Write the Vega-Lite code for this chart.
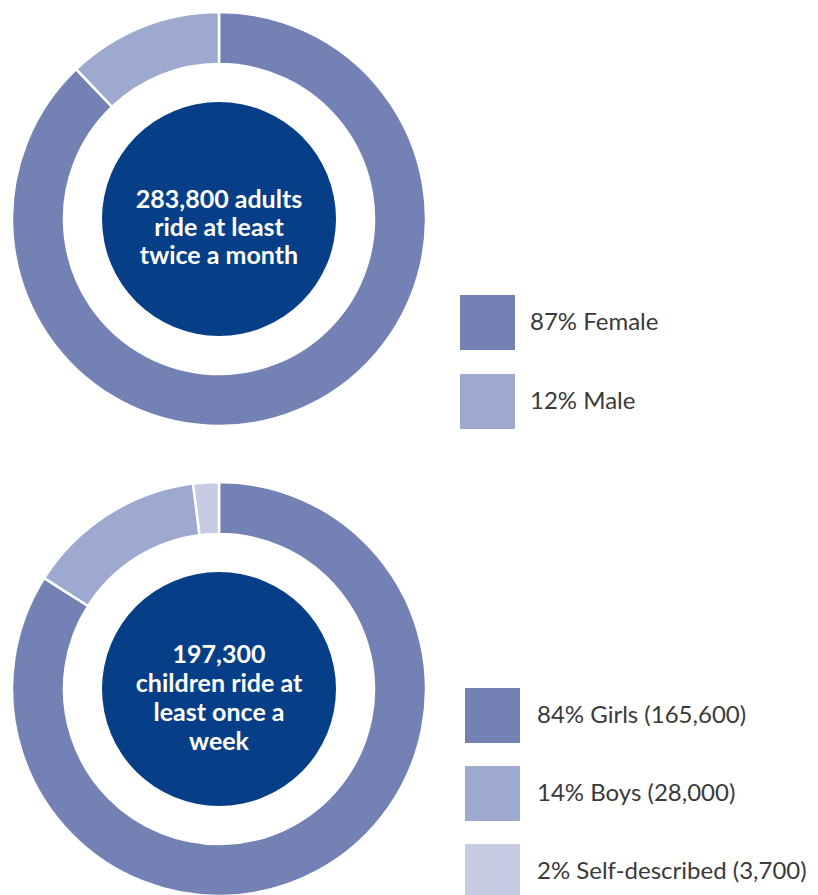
{
  "$schema": "https://vega.github.io/schema/vega-lite/v6.json",
  "padding": 0,
  "background": "white",
  "config": {
    "view": {"stroke": null},
    "concat": {"spacing": 32}
  },
  "datasets": {
    "adults": [
      {"group": "87% Female", "pct": 87},
      {"group": "12% Male", "pct": 12}
    ],
    "children": [
      {"group": "84% Girls (165,600)", "pct": 84},
      {"group": "14% Boys (28,000)", "pct": 14},
      {"group": "2% Self-described (3,700)", "pct": 2}
    ]
  },
  "vconcat": [
    {
      "width": 438,
      "height": 438,
      "layer": [
        {
          "data": {"name": "adults"},
          "mark": {"type": "arc", "innerRadius": 155, "outerRadius": 207, "stroke": "white", "strokeWidth": 2.5},
          "encoding": {
            "theta": {"field": "pct", "type": "quantitative", "stack": true},
            "order": {"field": "pct", "sort": "descending"},
            "color": {
              "field": "group",
              "type": "nominal",
              "scale": {"domain": ["87% Female", "12% Male"], "range": ["#7381b4", "#9ea9d0"]},
              "legend": {
                "orient": "none", "legendX": 460, "legendY": 295, "title": null,
                "symbolType": "square", "symbolSize": 3025, "symbolStrokeWidth": 0, "symbolOpacity": 1,
                "labelFontSize": 24, "labelFont": "Lato", "labelColor": "#3a3a3a",
                "labelOffset": 15, "rowPadding": 24, "labelLimit": 400, "padding": 0
              }
            }
          }
        },
        {
          "data": {"values": [{"label": ["283,800 adults", "ride at least", "twice a month"]}]},
          "mark": {"type": "point", "filled": true, "size": 54756, "color": "#063f88", "opacity": 1, "strokeWidth": 0},
          "encoding": {}
        },
        {
          "data": {"values": [{"label": ["283,800 adults", "ride at least", "twice a month"]}]},
          "mark": {"type": "text", "font": "Lato", "fontWeight": "bold", "fontSize": 25, "lineHeight": 28, "color": "white", "align": "center", "baseline": "middle", "dy": -19},
          "encoding": {"text": {"field": "label"}}
        }
      ]
    },
    {
      "width": 438,
      "height": 438,
      "layer": [
        {
          "data": {"name": "children"},
          "mark": {"type": "arc", "innerRadius": 155, "outerRadius": 207, "stroke": "white", "strokeWidth": 2.5},
          "encoding": {
            "theta": {"field": "pct", "type": "quantitative", "stack": true},
            "order": {"field": "pct", "sort": "descending"},
            "color": {
              "field": "group",
              "type": "nominal",
              "scale": {"domain": ["84% Girls (165,600)", "14% Boys (28,000)", "2% Self-described (3,700)"], "range": ["#7381b4", "#9ea9d0", "#c7cce4"]},
              "legend": {
                "orient": "none", "legendX": 465, "legendY": 218, "title": null,
                "symbolType": "square", "symbolSize": 3025, "symbolStrokeWidth": 0, "symbolOpacity": 1,
                "labelFontSize": 24, "labelFont": "Lato", "labelColor": "#3a3a3a",
                "labelOffset": 17, "rowPadding": 23, "labelLimit": 400, "padding": 0
              }
            }
          }
        },
        {
          "data": {"values": [{"label": ["197,300", "children ride at", "least once a", "week"]}]},
          "mark": {"type": "point", "filled": true, "size": 54756, "color": "#063f88", "opacity": 1, "strokeWidth": 0},
          "encoding": {}
        },
        {
          "data": {"values": [{"label": ["197,300", "children ride at", "least once a", "week"]}]},
          "mark": {"type": "text", "font": "Lato", "fontWeight": "bold", "fontSize": 25, "lineHeight": 29, "color": "white", "align": "center", "baseline": "middle", "dy": -34},
          "encoding": {"text": {"field": "label"}}
        }
      ]
    }
  ],
  "resolve": {
    "scale": {"color": "independent", "theta": "independent"},
    "legend": {"color": "independent"}
  }
}
